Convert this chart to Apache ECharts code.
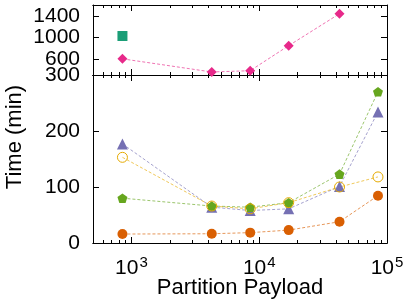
<!DOCTYPE html>
<html><head><meta charset="utf-8">
<script src="https://cdn.jsdelivr.net/npm/echarts@6/dist/echarts.min.js"></script>
<style>html,body{margin:0;padding:0;background:#fff}#c{width:407px;height:304px}</style>
</head><body><div id="c"></div>
<script>
// ---- data ----
const payload = [850, 4250, 8500, 17000, 42500, 85000];
const squareTime = [1024];                 // only the first payload
const circleTime = [16, 16.5, 18.5, 23, 38, 84.5];
const triangleTime = [177, 64, 58, 61, 101, 234];
const diamondTime = [600, 356, 380, 845, 1438];   // first five payloads
const pentagonTime = [80, 66, 64, 72, 123, 270];
const openCircleTime = [153, 66, 61, 72, 100, 118];

// ---- ticks ----
const xMajorTicks = [1000, 10000, 100000];
const xMinorTicks = [600, 700, 800, 900, 2000, 3000, 4000, 5000, 6000, 7000, 8000, 9000,
  20000, 30000, 40000, 50000, 60000, 70000, 80000, 90000];
const yTopTicks = [300, 600, 1000, 1400];
const yTopLabels = [600, 1000, 1400];
const yBottomLabels = [0, 100, 200, 300];
const yBottomTicks = [0, 100, 200, 300];

const FONT = '"Liberation Sans", Arial, sans-serif';
const pentagon = 'path://M0,-1 L0.951,-0.309 L0.588,0.809 L-0.588,0.809 L-0.951,-0.309 Z';

function xAx(grid, position, ticks, len, showLabel) {
  return {
    type: 'log', logBase: 10, gridIndex: grid, position: position, min: 500, max: 100000,
    axisLine: { show: true, lineStyle: { color: '#000', width: 1 } },
    axisTick: { show: true, inside: true, length: len, customValues: ticks, lineStyle: { color: '#000', width: 1 } },
    axisLabel: {
      show: showLabel, customValues: xMajorTicks, margin: 12,
      formatter: v => '{b|10}{s|' + Math.round(Math.log10(v)) + '}',
      rich: {
        b: { fontSize: 21, fontFamily: FONT, color: '#000', lineHeight: 24, verticalAlign: 'bottom' },
        s: { fontSize: 15, fontFamily: FONT, color: '#000', lineHeight: 24, verticalAlign: 'top', padding: [0, 0, 8, 1] }
      }
    },
    splitLine: { show: false }, minorTick: { show: false }, minorSplitLine: { show: false },
    name: (grid === 1 && position === 'bottom' && showLabel) ? 'Partition Payload' : '',
    nameLocation: 'middle', nameGap: 34, nameMoveOverlap: false,
    nameTextStyle: { fontSize: 22, fontFamily: FONT, color: '#000' }
  };
}
function yAx(grid, position, min, max, ticks, labels, showLabel) {
  return {
    type: 'value', gridIndex: grid, position: position, min: min, max: max,
    axisLine: { show: true, lineStyle: { color: '#000', width: 1 } },
    axisTick: { show: true, inside: true, length: 6, customValues: ticks, lineStyle: { color: '#000', width: 1 } },
    axisLabel: {
      show: showLabel, customValues: labels, margin: 13, fontSize: 21, fontFamily: FONT, color: '#000',
      showMinLabel: true, showMaxLabel: true, hideOverlap: false,
      formatter: v => String(v)
    },
    splitLine: { show: false }
  };
}

const xAxes = [
  xAx(0, 'bottom', xMajorTicks, 6, false),
  xAx(0, 'bottom', xMinorTicks, 3, false),
  xAx(0, 'top', xMajorTicks, 6, false),
  xAx(0, 'top', xMinorTicks, 3, false),
  xAx(1, 'bottom', xMajorTicks, 6, true),
  xAx(1, 'bottom', xMinorTicks, 3, false),
  xAx(1, 'top', xMajorTicks, 6, false),
  xAx(1, 'top', xMinorTicks, 3, false)
];
const yAxes = [
  yAx(0, 'left', 300, 1600, yTopTicks, yTopLabels, true),
  yAx(0, 'right', 300, 1600, yTopTicks, yTopLabels, false),
  yAx(1, 'left', 0, 300, yBottomTicks, yBottomLabels, true),
  yAx(1, 'right', 0, 300, yBottomTicks, yBottomLabels, false)
];

function mk(values, xi, yi, color, symbol, size, hollow) {
  return {
    type: 'line', xAxisIndex: xi, yAxisIndex: yi,
    data: values.map((v, i) => [payload[i], v]),
    symbol: symbol, symbolSize: size, symbolKeepAspect: true, showSymbol: true,
    lineStyle: { color: color, width: 1, type: [3, 2], opacity: 0.65 },
    itemStyle: hollow ? { color: 'rgba(0,0,0,0)', borderColor: color, borderWidth: 1 } : { color: color, borderWidth: 0 },
    emphasis: { disabled: true }, animation: false
  };
}

const option = {
  animation: false,
  backgroundColor: '#fff',
  grid: [
    { left: 93, right: 20, top: 5, height: 70, outerBoundsMode: 'none', containLabel: false },
    { left: 93, right: 20, top: 75, height: 168, outerBoundsMode: 'none', containLabel: false }
  ],
  xAxis: xAxes,
  yAxis: yAxes,
  series: [
    mk(squareTime, 0, 0, '#1b9e77', 'rect', 10, false),
    mk(circleTime, 4, 2, '#d95f02', 'circle', 10, false),
    mk(triangleTime, 4, 2, '#7570b3', 'triangle', 11, false),
    mk(diamondTime, 0, 0, '#e7298a', 'diamond', 10, false),
    mk(pentagonTime, 4, 2, '#66a61e', pentagon, 10, false),
    mk(openCircleTime, 4, 2, '#e6ab02', 'circle', 10, true)
  ],
  graphic: [{
    type: 'text', x: 15, y: 137, rotation: Math.PI / 2,
    style: { text: 'Time (min)', fontSize: 22, fontFamily: FONT, fill: '#000', align: 'center', verticalAlign: 'middle' }
  }]
};
const chart = echarts.init(document.getElementById('c'), null, { renderer: 'canvas' });
chart.setOption(option);
</script></body></html>
